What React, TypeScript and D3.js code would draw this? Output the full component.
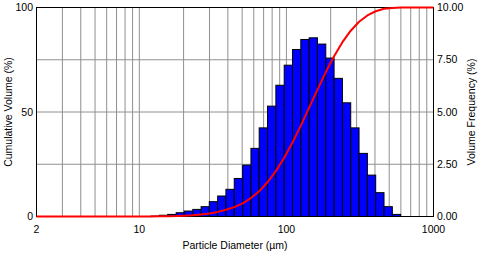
import { useEffect } from "react";
import * as d3 from "d3";

// bin edges (µm)
const binEdges = [
  12.0, 13.7, 15.6, 17.8, 20.2, 23.1, 26.3, 29.9, 34.1, 38.8, 44.2, 50.4, 57.4, 65.3, 74.4,
  84.8, 96.6, 110, 125.3, 142.7, 162.6, 185.2, 210.9, 240.3, 273.7, 311.8, 355.2, 404.6,
  460.9, 525, 598,
];
// volume frequency (%) per bin
const frequency = [
  0.02, 0.06, 0.1, 0.18, 0.26, 0.34, 0.47, 0.71, 0.98, 1.3, 1.82, 2.46, 3.26, 4.24, 5.28,
  6.28, 7.24, 7.99, 8.47, 8.55, 8.25, 7.58, 6.61, 5.44, 4.24, 3.02, 1.98, 1.14, 0.47, 0.1,
];
// cumulative volume (%) at each bin edge
const cumulative = [
  0, 0.1, 0.1, 0.2, 0.4, 0.6, 1.0, 1.4, 2.2, 3.2, 4.5, 6.3, 8.8, 12.1, 16.4, 21.7, 28.1,
  35.4, 43.5, 52.1, 60.7, 69.1, 76.7, 83.4, 88.9, 93.2, 96.2, 98.2, 99.4, 99.8, 100,
];
const xDomain = [2, 1000];
const xLabels = [2, 10, 100, 1000];
const leftTicks = [0, 50, 100];
const leftGrid = [25, 50, 75];
const rightTicks = [0, 2.5, 5, 7.5, 10];

const W = 480;
const H = 255;
const font = "'Liberation Sans', Arial, sans-serif";

export default function App() {
  useEffect(() => {
    document.body.style.margin = "0";
  }, []);

  const x = d3.scaleLog().domain(xDomain).range([36.5, 433.5]);
  const yCum = d3.scaleLinear().domain([0, 100]).range([216.5, 7.5]);
  const yFreq = d3.scaleLinear().domain([0, 10]).range([216.5, 7.5]);

  const gridX = x.ticks().filter((t) => t > xDomain[0] && t < xDomain[1]);

  const pts: [number, number][] = [
    [xDomain[0], 0],
    ...binEdges.map((d, i) => [d, cumulative[i]] as [number, number]),
    [xDomain[1], 100],
  ];
  const line = d3
    .line<[number, number]>()
    .x((d) => x(d[0]))
    .y((d) => yCum(d[1]));

  const [x0, x1] = x.range();
  const [yb, yt] = yCum.range();

  return (
    <svg width={W} height={H} style={{ display: "block" }} fontFamily={font}>
      <rect width={W} height={H} fill="#fff" />
      {gridX.map((t) => (
        <line key={t} x1={x(t)} x2={x(t)} y1={yt} y2={yb} stroke="#909090" strokeWidth={1} />
      ))}
      {leftGrid.map((t) => (
        <line key={t} x1={x0} x2={x1} y1={yCum(t)} y2={yCum(t)} stroke="#909090" strokeWidth={1} />
      ))}
      {frequency.map((f, i) => (
        <rect
          key={i}
          x={x(binEdges[i])}
          width={x(binEdges[i + 1]) - x(binEdges[i])}
          y={yFreq(f)}
          height={yb - yFreq(f)}
          fill="#0000ff"
          stroke="#000"
          strokeWidth={1}
        />
      ))}
      <rect x={x0} y={yt} width={x1 - x0} height={yb - yt} fill="none" stroke="#000" strokeWidth={1} />
      <path d={line(pts) ?? ""} fill="none" stroke="#ff0000" strokeWidth={2} strokeLinejoin="round" />
      {leftTicks.map((t) => (
        <text key={t} x={33} y={yCum(t)} dy="0.35em" textAnchor="end" fontSize={10.5} fill="#000">
          {t}
        </text>
      ))}
      {rightTicks.map((t) => (
        <text key={t} x={437} y={yFreq(t)} dy="0.35em" textAnchor="start" fontSize={10.5} fill="#000">
          {d3.format(".2f")(t)}
        </text>
      ))}
      {xLabels.map((t) => (
        <text key={t} x={x(t)} y={233} textAnchor="middle" fontSize={10.5} fill="#000">
          {t}
        </text>
      ))}
      <text x={(x0 + x1) / 2} y={249} textAnchor="middle" fontSize={10.5} fill="#000">
        Particle Diameter (µm)
      </text>
      <text
        transform={`translate(12,${(yb + yt) / 2}) rotate(-90)`}
        textAnchor="middle"
        fontSize={10.5}
        fill="#000"
      >
        Cumulative Volume (%)
      </text>
      <text
        transform={`translate(475,${(yb + yt) / 2}) rotate(-90)`}
        textAnchor="middle"
        fontSize={10.5}
        fill="#000"
      >
        Volume Frequency (%)
      </text>
    </svg>
  );
}
